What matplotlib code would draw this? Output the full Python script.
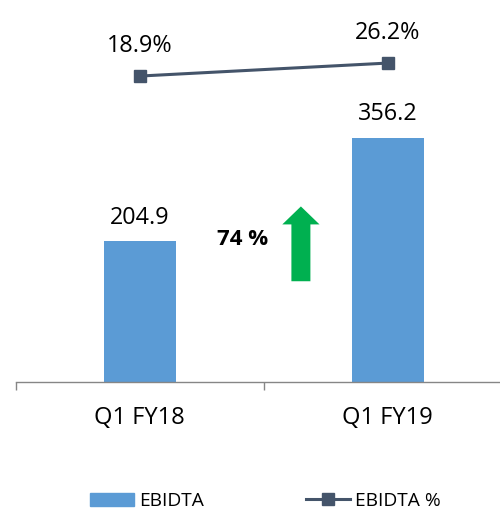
import matplotlib
matplotlib.use("Agg")
import matplotlib.pyplot as plt
from matplotlib.patches import FancyArrow

plt.rcParams['font.family'] = ['Open Sans', 'DejaVu Sans']

# data
quarters = ["Q1 FY18", "Q1 FY19"]
ebitda = [204.9, 356.2]
ebitda_pct = [18.9, 26.2]
growth_label = "74 %"

bar_color = "#5B9BD5"
line_color = "#44546A"
arrow_color = "#00B050"

fig = plt.figure(figsize=(5.0, 5.09), dpi=100)
ax = fig.add_axes([15.7 / 500, 127 / 509, 496 / 500, 372 / 509])

x = list(range(len(quarters)))
ax.bar(x, ebitda, width=0.29, color=bar_color, zorder=2)
for xi, v in zip(x, ebitda):
    ax.annotate(f"{v:.1f}", (xi, v), xytext=(0, 17), textcoords="offset points",
                ha="center", va="center", fontsize=16.8, color="black")

ax.set_xlim(-0.5, 1.5)
ax.set_ylim(0, 542)
ax.set_yticks([])
for s in ["top", "right", "left"]:
    ax.spines[s].set_visible(False)
ax.spines["bottom"].set_color("#868686")
ax.spines["bottom"].set_linewidth(1.0)

# boundary ticks, labels in the middle of each category
ax.set_xticks([-0.5, 0.5, 1.5])
ax.set_xticklabels([])
ax.tick_params(axis="x", which="major", length=5.8, color="#868686", width=1.0)
ax.set_xticks(x, minor=True)
ax.set_xticklabels(quarters, minor=True, fontsize=17)
ax.tick_params(axis="x", which="minor", length=0, pad=17)

# growth arrow + label
ax.add_patch(FancyArrow(0.65, 146.8, 0, 109, width=0.0766, head_width=0.15,
                        head_length=26.2, length_includes_head=True,
                        color=arrow_color, lw=0, zorder=3))
ax.text(0.415, 208, growth_label, ha="center", va="center", fontsize=16,
        fontweight="bold", color="black")

# margin line on a secondary axis
ax2 = ax.twinx()
ax2.plot(x, ebitda_pct, color=line_color, lw=2.2, marker="s", markersize=8,
         zorder=4)
ax2.set_ylim(-152.9, 56.0)
ax2.set_yticks([])
for s in ax2.spines.values():
    s.set_visible(False)
for xi, v in zip(x, ebitda_pct):
    ax2.annotate(f"{v:.1f}%", (xi, v), xytext=(0, 21.6), textcoords="offset points",
                 ha="center", va="center", fontsize=16.8, color="black")

h1 = plt.Rectangle((0, 0), 1, 1, color=bar_color)
h2, = ax2.plot([], [], color=line_color, lw=2.2, marker="s", markersize=8)
fig.legend([h1, h2], ["EBIDTA", "EBIDTA %"], loc="center left",
           bbox_to_anchor=(90 / 500, 8 / 509), ncol=2, frameon=False,
           fontsize=13.8, handlelength=2.28, handletextpad=0.3,
           columnspacing=5.3, borderpad=0, borderaxespad=0)

fig.savefig("out.png", dpi=100)
